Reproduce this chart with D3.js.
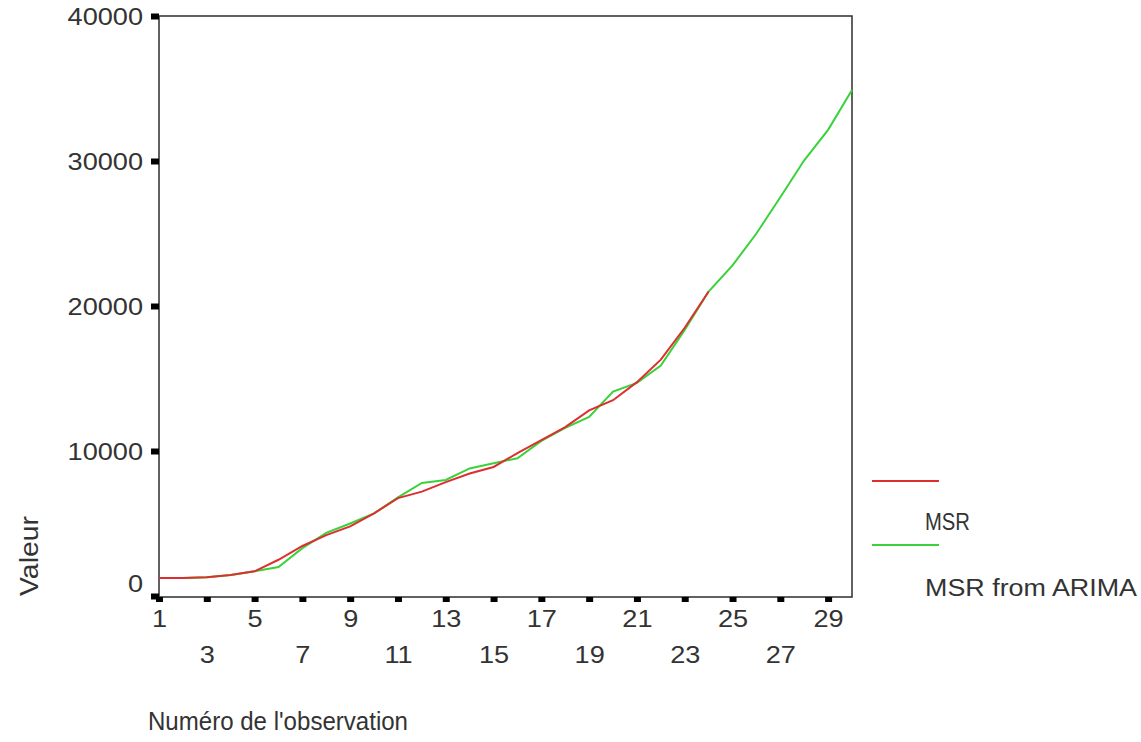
<!DOCTYPE html>
<html>
<head>
<meta charset="utf-8">
<script src="https://cdn.jsdelivr.net/npm/d3@7"></script>
<style>
  html, body { margin: 0; padding: 0; background: #fff; }
  svg text { font-family: "Liberation Sans", Arial, sans-serif; fill: #333; }
</style>
</head>
<body>
<svg id="chart" width="1141" height="742"></svg>
<script>
// Observation numbers and the two series
const observations = d3.range(1, 31);
const msr = [1250, 1250, 1300, 1450, 1700, 2500, 3450, 4200, 4800, 5700,
             6750, 7200, 7850, 8450, 8900, 9850, 10750, 11650, 12800, 13500,
             14750, 16300, 18500, 21000];
const msrArima = [1250, 1250, 1300, 1450, 1700, 2000, 3300, 4350, 5000, 5700,
                  6800, 7800, 8000, 8800, 9150, 9500, 10700, 11600, 12350, 14100,
                  14700, 15900, 18350, 21000, 22800, 25000, 27500, 30050, 32150, 34900];
const yTicks = [0, 10000, 20000, 30000, 40000];
const xTicks = [1, 3, 5, 7, 9, 11, 13, 15, 17, 19, 21, 23, 25, 27, 29];
const seriesNames = ["MSR", "MSR from ARIMA"];
const seriesColors = ["#dc2f2f", "#3ad23a"];

const svg = d3.select("#chart");
const plot = { left: 159, top: 16, right: 852, bottom: 597 };
const stretch = 1.18;

const x = d3.scaleLinear().domain([1, 30]).range([plot.left, plot.right]);
const y = d3.scaleLinear().domain([0, 40000]).range([plot.bottom - 1, plot.top]);

// Frame
svg.append("rect")
  .attr("x", plot.left).attr("y", plot.top)
  .attr("width", plot.right - plot.left).attr("height", plot.bottom - plot.top)
  .attr("fill", "none").attr("stroke", "#3a3a3a").attr("stroke-width", 1.6);

// Y axis
const yAxis = svg.append("g")
  .attr("transform", `translate(${plot.left},0)`)
  .call(d3.axisLeft(y).tickValues(yTicks).tickSize(8).tickPadding(8).tickFormat(d3.format("d")));
yAxis.select(".domain").remove();
yAxis.selectAll(".tick line").attr("stroke", "#000").attr("stroke-width", 6);
yAxis.selectAll(".tick text")
  .attr("font-size", 23)
  .attr("fill", "#333")
  .attr("x", -16 / stretch)
  .attr("dy", d => d === 0 ? "-0.2em" : "0.36em")
  .attr("transform", `scale(${stretch},1)`);

// X axis with labels alternating between two rows
const xAxis = svg.append("g")
  .attr("transform", `translate(0,${plot.bottom})`)
  .call(d3.axisBottom(x).tickValues(xTicks).tickSize(5).tickPadding(6).tickFormat(d3.format("d")));
xAxis.select(".domain").remove();
xAxis.selectAll(".tick line").attr("stroke", "#000").attr("stroke-width", 7);
xAxis.selectAll(".tick text")
  .attr("font-size", 23)
  .attr("fill", "#333")
  .attr("y", (d, i) => (i % 2 === 0 ? 30 : 66))
  .attr("dy", 0)
  .attr("transform", `scale(${stretch},1)`);

// Series lines (ARIMA first so the observed series sits on top)
const line = d3.line().x((d, i) => x(observations[i])).y(d => y(d));
svg.append("path").datum(msrArima)
  .attr("d", line).attr("fill", "none")
  .attr("stroke", seriesColors[1]).attr("stroke-width", 2);
svg.append("path").datum(msr)
  .attr("d", line).attr("fill", "none")
  .attr("stroke", seriesColors[0]).attr("stroke-width", 2);

// Legend
const legend = svg.append("g");
const legendRows = [
  { lineY: 481, textY: 530, width: 45 },
  { lineY: 545, textY: 596, width: 212 }
];
legendRows.forEach((r, i) => {
  legend.append("line")
    .attr("x1", 872).attr("x2", 939)
    .attr("y1", r.lineY).attr("y2", r.lineY)
    .attr("stroke", seriesColors[i]).attr("stroke-width", 2);
  legend.append("text")
    .attr("x", 925).attr("y", r.textY)
    .attr("font-size", 23)
    .attr("textLength", r.width)
    .attr("lengthAdjust", "spacingAndGlyphs")
    .text(seriesNames[i]);
});

// Axis titles
svg.append("text")
  .attr("transform", "translate(38,556) rotate(-90)")
  .attr("text-anchor", "middle")
  .attr("font-size", 25)
  .attr("textLength", 80)
  .attr("lengthAdjust", "spacingAndGlyphs")
  .text("Valeur");

svg.append("text")
  .attr("x", 148).attr("y", 730)
  .attr("font-size", 25)
  .attr("textLength", 260)
  .attr("lengthAdjust", "spacingAndGlyphs")
  .text("Numéro de l'observation");
</script>
</body>
</html>
